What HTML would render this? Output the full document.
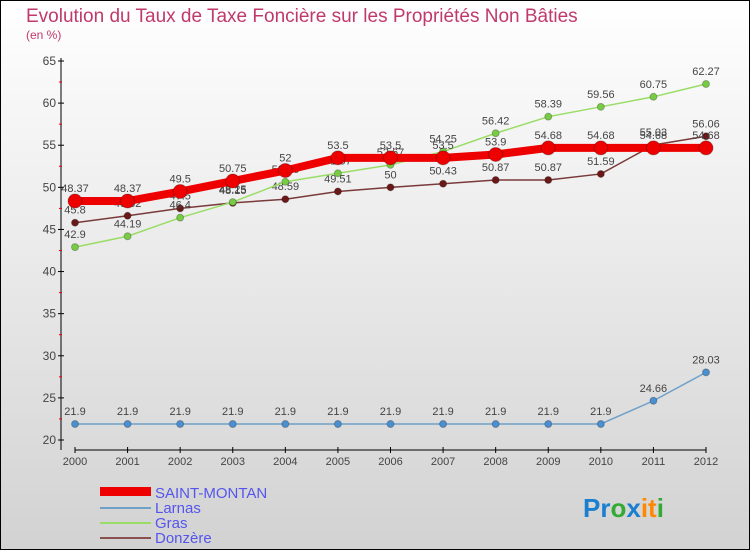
<!DOCTYPE html>
<html><head><meta charset="utf-8"><style>
body{margin:0;width:750px;height:550px;overflow:hidden;font-family:"Liberation Sans",sans-serif}
svg{display:block}
</style></head><body>
<svg id="c" width="750" height="550">
<defs><linearGradient id="bg" x1="0" y1="0" x2="0" y2="1"><stop offset="0" stop-color="#ffffff"/><stop offset="1" stop-color="#d2d2d2"/></linearGradient></defs>
<rect x="0.5" y="0.5" width="749" height="549" fill="url(#bg)" stroke="#000"/>
<text x="26" y="22" font-size="19" fill="#c0396b">Evolution du Taux de Taxe Foncière sur les Propriétés Non Bâties</text>
<text x="26" y="39" font-size="12" fill="#c0396b">(en %)</text>
<g id="axes"></g><g id="series"></g>
<g>
<rect x="100" y="487" width="51" height="9" fill="#ee0000"/>
<text x="155" y="498" font-size="15" fill="#5555ee">SAINT-MONTAN</text>
<rect x="100" y="507" width="51" height="2" fill="#6fa0c8"/>
<text x="155" y="513" font-size="15" fill="#5555ee">Larnas</text>
<rect x="100" y="522" width="51" height="2" fill="#99dd66"/>
<text x="155" y="528" font-size="15" fill="#5555ee">Gras</text>
<rect x="100" y="537" width="51" height="2" fill="#8a5050"/>
<text x="155" y="543" font-size="15" fill="#5555ee">Donzère</text>
</g>
<text x="583" y="517" font-size="26" font-weight="bold"><tspan fill="#1a7fd0">Pr</tspan><tspan fill="#33aa33">o</tspan><tspan fill="#1a7fd0">x</tspan><tspan fill="#ff8800">it</tspan><tspan fill="#33aa33">i</tspan></text>
</svg>
<script>
const years=["2000","2001","2002","2003","2004","2005","2006","2007","2008","2009","2010","2011","2012"];
const yTicks=[20,25,30,35,40,45,50,55,60,65];
const saintMontan=[48.37,48.37,49.5,50.75,52,53.5,53.5,53.5,53.9,54.68,54.68,54.68,54.68];
const larnas=[21.9,21.9,21.9,21.9,21.9,21.9,21.9,21.9,21.9,21.9,21.9,24.66,28.03];
const gras=[42.9,44.19,46.4,48.25,50.66,51.67,52.67,54.25,56.42,58.39,59.56,60.75,62.27];
const donzere=[45.8,46.62,47.5,48.15,48.59,49.51,50,50.43,50.87,50.87,51.59,55.03,56.06];
const NS="http://www.w3.org/2000/svg";
const X=i=>75+i*(706-75)/12;
const Y=v=>440-(v-20)*(440-61)/45;
function mk(t,a,p){const e=document.createElementNS(NS,t);for(const k in a)e.setAttribute(k,a[k]);p.appendChild(e);return e;}
const ax=document.getElementById('axes');
let l=mk('line',{x1:61,y1:58,x2:61,y2:450,stroke:'#000'},ax);


yTicks.forEach(v=>{
 const t=mk('line',{x1:58,y1:Y(v),x2:64,y2:Y(v),stroke:'#000'},ax);
 
 
 if(v<65){const m=mk('line',{x1:59,y1:Y(v+2.5),x2:62,y2:Y(v+2.5),stroke:'#e00'},ax);
 
 }
 const tx=mk('text',{x:56,y:Y(v)+4,'font-size':12,fill:'#444','text-anchor':'end'},ax);
 tx.textContent=v;
 
 
});
l=mk('line',{x1:75,y1:450,x2:706,y2:450,stroke:'#000'},ax);


years.forEach((y,i)=>{
 const t=mk('line',{x1:X(i),y1:447,x2:X(i),y2:453,stroke:'#000'},ax);
 
 
 const tx=mk('text',{x:X(i),y:465,'font-size':11,fill:'#444','text-anchor':'middle'},ax);
 tx.textContent=y;
 
 
});
const sg=document.getElementById('series');
function draw(d,name,col,dot,w,r){
 const g=mk('g',{},sg);
 
 
 const p=mk('polyline',{points:d.map((v,i)=>X(i)+','+Y(v)).join(' '),fill:'none',stroke:col,'stroke-width':w},g);
 
 
 d.forEach((v,i)=>{
  const c=mk('circle',{cx:X(i),cy:Y(v),r:r,fill:dot,stroke:'rgba(0,0,0,0.25)'},g);
  
  
  const t=mk('text',{x:X(i),y:Y(v)-9,'font-size':11,fill:'#444','text-anchor':'middle'},g);
  t.textContent=v;
  
  
 });
}
draw(larnas,'larnas','#6fa0c8','#4a90d0',1.5,3.5);
draw(donzere,'donzere','#7a3a3a','#6a1818',1.5,3.5);
draw(gras,'gras','#99dd66','#77cc44',1.5,3.5);
draw(saintMontan,'saint-montan','#ee0000','#ee0000',8,7);
</script>
</body></html>
